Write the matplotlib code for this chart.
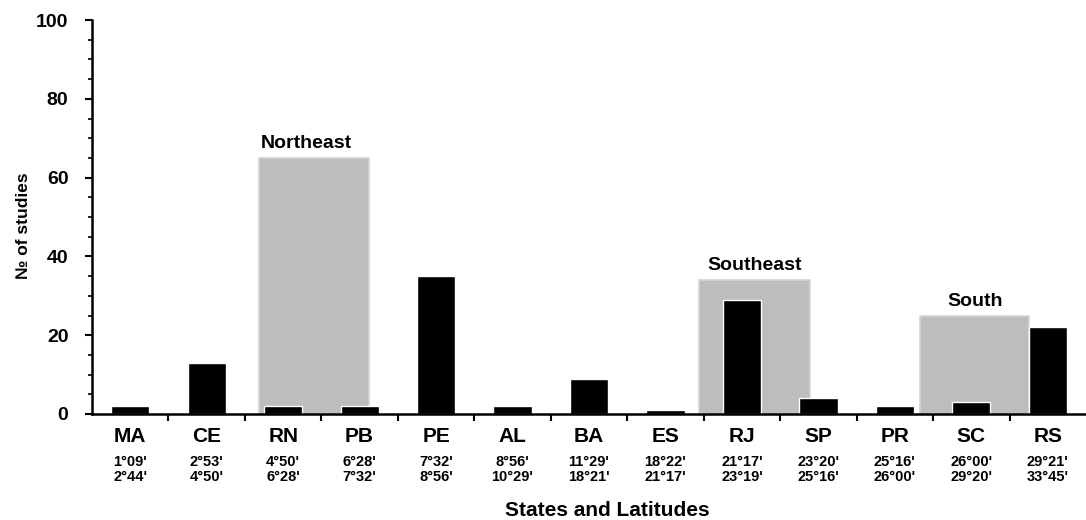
import numpy as np
import matplotlib.pyplot as plt
import matplotlib.transforms as mtransforms

plt.rcParams['font.family'] = ['Liberation Sans', 'DejaVu Sans']
plt.rcParams['font.weight'] = 'bold'

states = ['MA', 'CE', 'RN', 'PB', 'PE', 'AL', 'BA', 'ES', 'RJ', 'SP', 'PR', 'SC', 'RS']
studies = [2, 13, 2, 2, 35, 2, 9, 1, 29, 4, 2, 3, 22]
lat_from = ["1°09'", "2°53'", "4°50'", "6°28'", "7°32'", "8°56'", "11°29'",
            "18°22'", "21°17'", "23°20'", "25°16'", "26°00'", "29°21'"]
lat_to = ["2°44'", "4°50'", "6°28'", "7°32'", "8°56'", "10°29'", "18°21'",
          "21°17'", "23°19'", "25°16'", "26°00'", "29°20'", "33°45'"]

# regional totals (grey boxes) and the states they span
regions = ['Northeast', 'Southeast', 'South']
region_totals = [65, 34, 25]
region_first = ['RN', 'RJ', 'SC']
region_last = ['PB', 'SP', 'SC']

fig = plt.figure(figsize=(10.86, 5.2), dpi=100)
ax = fig.add_axes([92 / 1086, 106 / 520, 994 / 1086, 394 / 520])

x = np.arange(len(states))

# grey region boxes sit a little off-centre from their states in the original
box_pad = {'Northeast': (-0.31, 0.12), 'Southeast': (-0.56, -0.11), 'South': (-0.67, 0.76)}
label_shift = {'Northeast': -0.1, 'Southeast': 0.0, 'South': 0.0}

for name, tot, a, b in zip(regions, region_totals, region_first, region_last):
    i0 = states.index(a)
    i1 = states.index(b)
    left = i0 + box_pad[name][0]
    right = i1 + box_pad[name][1]
    ax.bar(left, tot, width=right - left, align='edge', color='#bdbdbd',
           edgecolor='#d4d4d4', linewidth=1.2, zorder=1)
    ax.text((left + right) / 2 + label_shift[name], tot + 1.5, name, ha='center',
            va='bottom', fontsize=14, fontweight='bold')

ax.bar(x, studies, width=0.5, color='black', edgecolor='white', linewidth=1, zorder=2)

ax.set_xlim(-0.5, len(states) - 0.5)
ax.set_ylim(0, 100)
ax.set_yticks(np.arange(0, 101, 20))
ax.set_yticks(np.arange(0, 101, 5), minor=True)
ax.set_xticks(np.arange(0.5, len(states) - 0.5, 1))
ax.set_xticklabels([])
ax.tick_params(axis='y', which='major', labelsize=14, length=5, width=1.5, pad=12)
ax.tick_params(axis='y', which='minor', length=3, width=1.2)
ax.tick_params(axis='x', length=5, width=1.5)
for lab in ax.get_yticklabels():
    lab.set_fontweight('bold')

ax.spines['top'].set_visible(False)
ax.spines['right'].set_visible(False)
ax.spines['left'].set_linewidth(1.8)
ax.spines['bottom'].set_linewidth(1.8)

trans = mtransforms.blended_transform_factory(ax.transData, ax.transAxes)
for i in x:
    ax.text(i, -0.057, states[i], transform=trans, ha='center', va='center',
            fontsize=15, fontweight='bold')
    ax.text(i, -0.123, lat_from[i], transform=trans, ha='center', va='center',
            fontsize=10.5, fontweight='bold')
    ax.text(i, -0.161, lat_to[i], transform=trans, ha='center', va='center',
            fontsize=10.5, fontweight='bold')

fig.text(24 / 1086, 1 - 226 / 520, '№ of studies', rotation=90, ha='center',
         va='center', fontsize=12.5, fontweight='bold')
fig.text(607 / 1086, 1 - 510 / 520, 'States and Latitudes', ha='center',
         va='center', fontsize=15, fontweight='bold')

fig.savefig('out.png', dpi=100)
